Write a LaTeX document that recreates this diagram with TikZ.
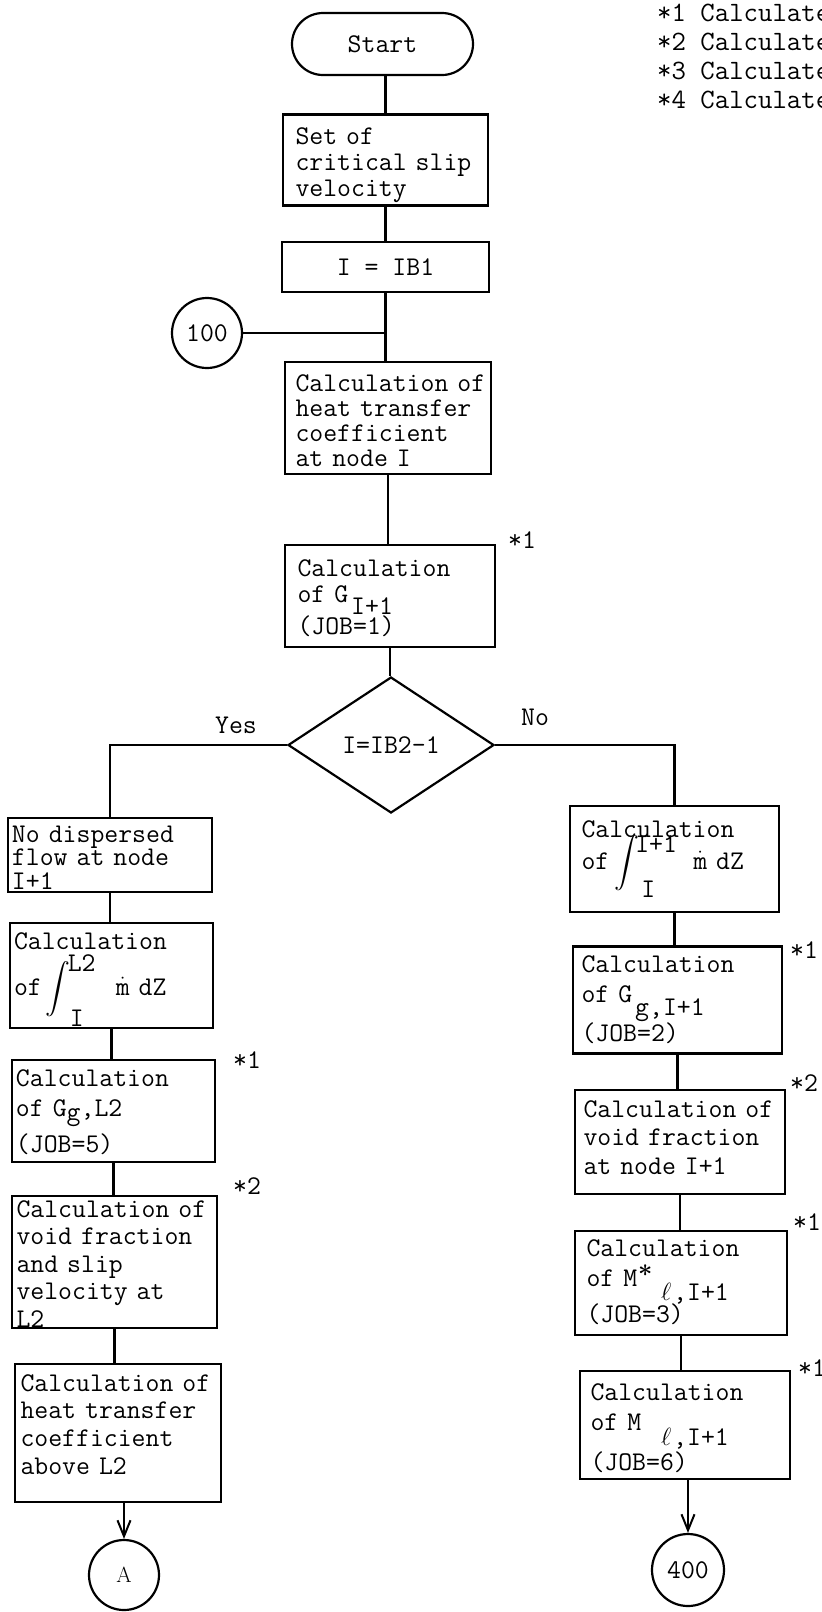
\documentclass[tikz,border=0pt]{standalone}
\usepackage{fontspec}
\usepackage{exscale}
\usetikzlibrary{shapes.geometric,arrows.meta}
\newcommand{\bigint}{{\fontsize{24}{24}\selectfont$\displaystyle\int$}}
\begin{document}
\begin{tikzpicture}[x=1pt,y=-1pt,
  txt/.style={font=\ttfamily\fontsize{27}{28}\selectfont},
  lh/.style={font=\ttfamily\fontsize{27}{#1}\selectfont},
  conn/.style={line width=2.2pt},
  arr/.style={conn,-{Straight Barb[length=16pt,width=13pt,line width=2pt]}},
  bx/.style n args={4}{txt,draw,line width=2.2pt,align=left,inner ysep=0pt,
     inner xsep=#4,text width=#1-2*#4,minimum height=#2,text height=#3,text depth=#2-#3},
  plainbox/.style={txt,draw,line width=2.2pt,inner sep=0pt},
  circ/.style={txt,draw,circle,line width=2.2pt,inner sep=0pt},
  note/.style={txt,inner sep=0pt,anchor=west},
  legend/.style={note,font=\ttfamily\fontsize{28}{30}\selectfont},
]
\useasboundingbox (0,0) rectangle (822,1612);
\clip (0,0) rectangle (822,1612);

% legend
\node[legend] (k1) at (657,13) {*1~Calculate};
\node[legend] (k2) at (657,42) {*2~Calculate};
\node[legend] (k3) at (657,71) {*3~Calculate};
\node[legend] (k4) at (657,100) {*4~Calculate};

% main column
\node[plainbox,rounded corners=31pt,minimum width=181pt,minimum height=62pt] (start) at (382.5,44) {Start};
\node[bx={205pt}{91pt}{30pt}{12.5pt},lh=26] (setv) at (385.5,160) {Set~of\\critical~slip\\velocity};
\node[plainbox,minimum width=207pt,minimum height=50pt] (ib1) at (385.5,267) {I = IB1};
\node[circ,minimum size=70pt] (c100) at (207,333) {100};
\node[bx={206pt}{112pt}{29pt}{10.5pt},lh=25] (heat1) at (388,418) {Calculation~of\\heat~transfer\\coefficient\\at~node~I};
\node[bx={210pt}{102pt}{31pt}{12.5pt}] (gi1) at (390,596) {Calculation\\[-2pt]of~G\hspace{3pt}\smash{\raisebox{-12pt}{I+1}}\\[4pt](JOB=1)};
\node[note] (s1) at (508,540) {*1};
\node[txt,diamond,draw,line width=2.2pt,minimum width=206pt,minimum height=136pt,inner sep=0pt] (dia) at (391,745) {I=IB2-1};
\node[txt] (yes) at (236,725) {Yes};
\node[txt] (no) at (535,717) {No};

% left column
\node[bx={204pt}{74pt}{24pt}{4pt},lh=23.5] (nodisp) at (110,855) {No~dispersed\\flow~at~node\\I+1};
\node[bx={203pt}{105pt}{26pt}{4pt}] (intl2) at (111.5,975.5) {Calculation\\[18pt]of\smash{\makebox[26pt][l]{\hspace{4pt}\bigint}\makebox[48pt][l]{\rlap{\raisebox{24pt}{L2}}\hspace{2pt}\raisebox{-31pt}{I}}}$\dot{\mbox{m}}$~dZ};
\node[bx={203pt}{102pt}{26pt}{4pt}] (ggl2) at (113.5,1111) {Calculation\\[2pt]of~G\raisebox{-4pt}{g},L2\\[7pt](JOB=5)};
\node[note] (s2) at (233,1060) {*1};
\node[bx={205pt}{132pt}{21pt}{4.5pt},lh=27.5] (voidl) at (114.5,1262) {Calculation~of\\void~fraction\\and~slip\\velocity~at\\L2};
\node[note] (s3) at (233,1186) {*2};
\node[bx={206pt}{138pt}{27pt}{5.5pt},lh=27.7] (heatl) at (118,1433) {Calculation~of\\heat~transfer\\coefficient\\above~L2};
\node[circ,minimum size=70pt,font=\rmfamily\fontsize{22}{24}\selectfont] (circA) at (124,1575) {A};

% right column
\node[bx={209pt}{106pt}{31pt}{11.5pt}] (intr) at (674.5,859) {Calculation\\[4pt]of\smash{\makebox[26pt][l]{\hspace{5pt}\bigint}\makebox[58pt][l]{\rlap{\raisebox{17pt}{I+1}}\hspace{6pt}\raisebox{-28pt}{I}}}$\dot{\mbox{m}}$~dZ};
\node[bx={209pt}{107pt}{26pt}{8.5pt}] (ggr) at (677.5,1000) {Calculation\\[2pt]of~G\hspace{3pt}\smash{\raisebox{-13pt}{g,I+1}}\\[11pt](JOB=2)};
\node[note] (s4) at (790,950) {*1};
\node[bx={210pt}{104pt}{27pt}{8.5pt},lh=28.5] (voidr) at (680,1142) {Calculation~of\\void~fraction\\at~node~I+1};
\node[note] (s5) at (790,1083) {*2};
\node[bx={212pt}{104pt}{25pt}{11.5pt}] (mstar) at (681,1283) {Calculation\\[2pt]of~M\makebox[22pt][l]{\hspace{1pt}\smash{\raisebox{10pt}{\boldmath$\ast$}}}\smash{\raisebox{-14pt}{\makebox[14pt]{$\ell$},I+1}}\\[8pt](JOB=3)};
\node[note] (s6) at (793,1222) {*1};
\node[bx={210pt}{108pt}{29pt}{10.5pt}] (mr) at (685,1425) {Calculation\\[2pt]of~M\hspace{18pt}\smash{\raisebox{-15pt}{\makebox[14pt]{$\ell$},I+1}}\\[12pt](JOB=6)};
\node[note] (s7) at (798,1368) {*1};
\node[circ,minimum size=72pt] (c400) at (688,1570) {400};

% connectors
\draw[conn] (setv.north) -- (setv.north |- start.south);
\draw[conn] (setv.south) -- (setv.south |- ib1.north);
\draw[conn] (ib1.south) -- (ib1.south |- heat1.north);
\draw[conn] (c100.east) -- (c100.east -| ib1.south);
\draw[conn] (heat1.south) -- (heat1.south |- gi1.north);
\draw[conn] (gi1.south) -- (gi1.south |- dia.north);
\draw[conn] (dia.west) -| (nodisp.north);
\draw[conn] (dia.east) -| (intr.north);
\draw[conn] (nodisp.south) -- (nodisp.south |- intl2.north);
\draw[conn] (intl2.south) -- (intl2.south |- ggl2.north);
\draw[conn] (ggl2.south) -- (ggl2.south |- voidl.north);
\draw[conn] (voidl.south) -- (voidl.south |- heatl.north);
\draw[arr] (circA.north |- heatl.south) -- (circA.north);
\draw[conn] (intr.south) -- (intr.south |- ggr.north);
\draw[conn] (ggr.south) -- (ggr.south |- voidr.north);
\draw[conn] (voidr.south) -- (voidr.south |- mstar.north);
\draw[conn] (mstar.south) -- (mstar.south |- mr.north);
\draw[arr] (c400.north |- mr.south) -- (c400.north);
\end{tikzpicture}
\end{document}
